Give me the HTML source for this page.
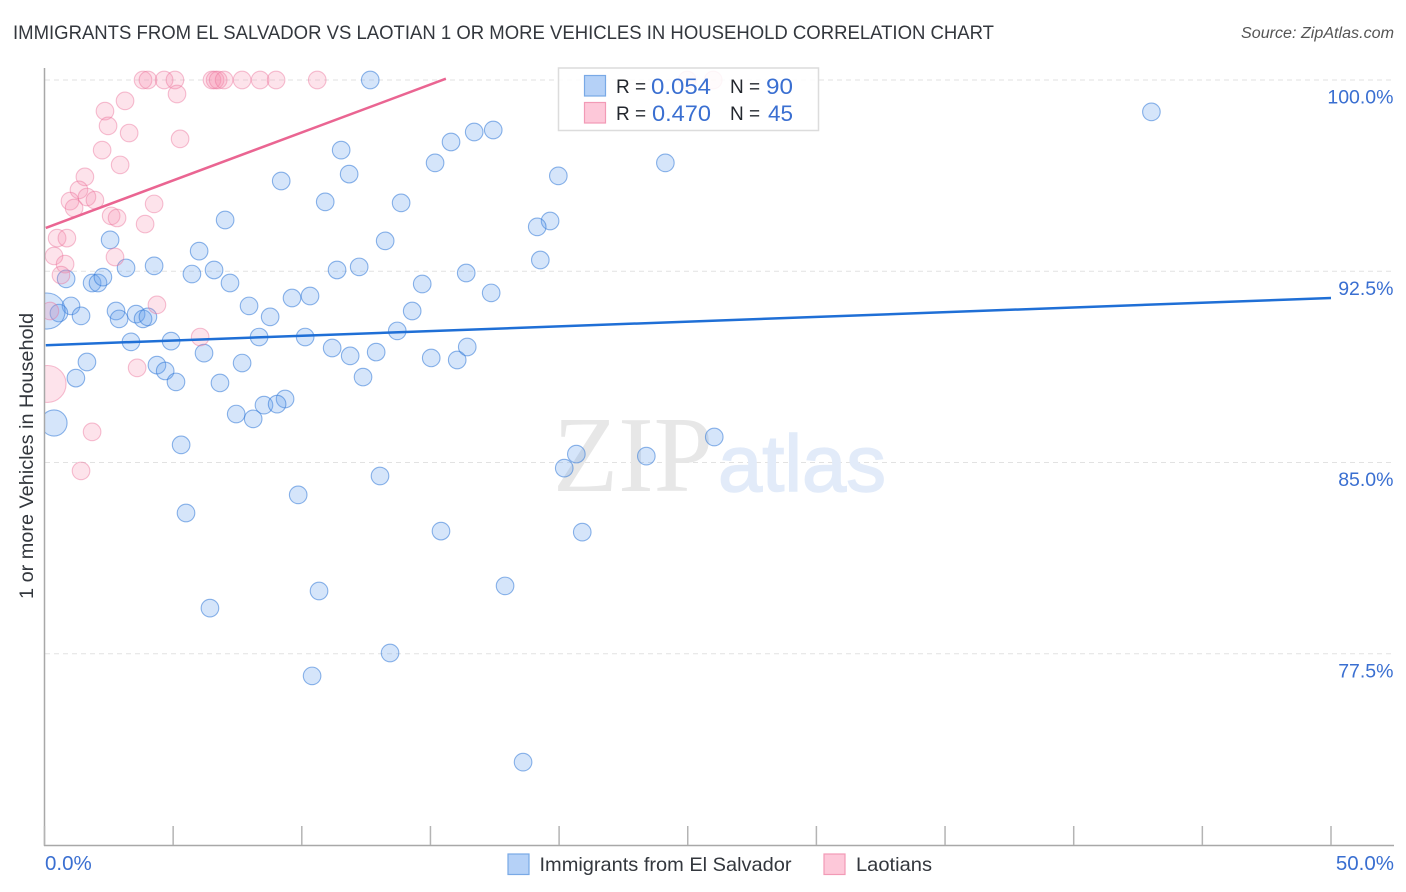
<!DOCTYPE html>
<html lang="en">
<head>
<meta charset="utf-8">
<title>Immigrants from El Salvador vs Laotian 1 or more Vehicles in Household Correlation Chart</title>
<style>
html,body{margin:0;padding:0;background:#fff;}
svg{display:block;font-family:"Liberation Sans",sans-serif;}
</style>
</head>
<body>
<svg id="chart" width="1406" height="892" viewBox="0 0 1406 892" xmlns="http://www.w3.org/2000/svg">
  <defs><clipPath id="plot-clip"><rect x="45" y="60" width="1349" height="785"/></clipPath></defs>
  <text x="13" y="39" font-size="19.5" fill="#33373d" textLength="981" lengthAdjust="spacingAndGlyphs">IMMIGRANTS FROM EL SALVADOR VS LAOTIAN 1 OR MORE VEHICLES IN HOUSEHOLD CORRELATION CHART</text>
  <text x="1394" y="38" font-size="15.5" font-style="italic" fill="#555" text-anchor="end" textLength="153" lengthAdjust="spacingAndGlyphs">Source: ZipAtlas.com</text>
  <text transform="translate(33,599) rotate(-90)" font-size="19" fill="#33373d" textLength="286" lengthAdjust="spacingAndGlyphs">1 or more Vehicles in Household</text>

  <g id="grid"></g>
  <g>
    <text x="553" y="491" font-family="'Liberation Serif',serif" font-size="108" fill="#e7e7e7" textLength="160" lengthAdjust="spacingAndGlyphs">ZIP</text>
    <text x="718" y="491" font-size="80" fill="#e2ebf9" stroke="#e2ebf9" stroke-width="1.5" textLength="168" lengthAdjust="spacingAndGlyphs">atlas</text>
  </g>
  <g id="points" clip-path="url(#plot-clip)"></g>
  <g id="trends"></g>
  <g id="axes"></g>
  <g id="tick-labels"></g>

  <g>
    <rect x="558.5" y="68" width="260" height="62.5" fill="#fff" fill-opacity="0.86" stroke="#dcdcdc" stroke-width="1.5"/>
    <rect x="584.5" y="75.5" width="21" height="20.5" fill="#b5d1f7" stroke="#79a9e6" stroke-width="1.2"/>
    <rect x="584.5" y="102.5" width="21" height="20.5" fill="#fdc8d9" stroke="#f29ab6" stroke-width="1.2"/>
    <g font-size="20">
      <text x="616" y="93" fill="#23272e" font-size="19">R =</text>
      <text x="651" y="94" fill="#3a6fd1" font-size="22" textLength="60" lengthAdjust="spacingAndGlyphs">0.054</text>
      <text x="730" y="93" fill="#23272e" font-size="19">N =</text>
      <text x="766" y="94" fill="#3a6fd1" font-size="22" textLength="27" lengthAdjust="spacingAndGlyphs">90</text>
      <text x="616" y="120" fill="#23272e" font-size="19">R =</text>
      <text x="652" y="121" fill="#3a6fd1" font-size="22" textLength="59" lengthAdjust="spacingAndGlyphs">0.470</text>
      <text x="730" y="120" fill="#23272e" font-size="19">N =</text>
      <text x="768" y="121" fill="#3a6fd1" font-size="22" textLength="25" lengthAdjust="spacingAndGlyphs">45</text>
    </g>
  </g>

  <g>
    <g>
      <rect x="508" y="854" width="21" height="20.5" fill="#b5d1f7" stroke="#79a9e6" stroke-width="1.2"/>
      <text x="539.5" y="871" font-size="19.5" fill="#33373d" textLength="252" lengthAdjust="spacingAndGlyphs">Immigrants from El Salvador</text>
    </g>
    <g>
      <rect x="824" y="854" width="21" height="20.5" fill="#fdc8d9" stroke="#f29ab6" stroke-width="1.2"/>
      <text x="856" y="871" font-size="19.5" fill="#33373d" textLength="76" lengthAdjust="spacingAndGlyphs">Laotians</text>
    </g>
  </g>
</svg>
<script>
const blueX = [12.66,43.02,17.44,16.70,15.80,11.53,15.18,24.13,11.84,19.97,9.20,10.91,13.86,7.02,19.65,19.15,13.24,2.55,6.01,19.27,3.17,4.26,6.59,11.37,12.23,5.73,16.39,0.84,1.85,2.08,2.27,7.21,14.68,17.36,9.62,10.32,7.95,14.29,1.03,0.56,0.10,1.42,2.78,2.90,3.56,3.83,4.02,8.77,13.71,8.34,10.13,3.36,4.92,11.18,12.89,11.88,15.03,16.04,16.43,6.20,1.65,4.37,4.69,7.68,1.22,5.11,6.82,12.38,9.35,8.53,9.04,7.45,8.11,0.37,5.31,26.03,23.39,20.67,20.20,13.04,9.86,5.50,15.41,20.90,17.90,10.67,6.43,13.43,10.40,18.60];
const blueY = [100,98.75,98.04,97.96,97.57,97.25,96.75,96.75,96.31,96.24,96.04,95.22,95.18,94.51,94.47,94.24,93.69,93.73,93.29,92.94,92.63,92.71,92.55,92.55,92.67,92.39,92.43,92.20,92.04,92.04,92.27,92.04,92.00,91.65,91.45,91.53,91.14,90.94,91.14,90.86,90.94,90.75,90.94,90.63,90.82,90.63,90.71,90.71,90.16,89.92,89.92,89.73,89.76,89.49,89.33,89.18,89.10,89.02,89.53,89.29,88.94,88.82,88.59,88.90,88.31,88.16,88.12,88.35,87.49,87.25,87.29,86.90,86.71,86.55,85.69,86.00,85.25,85.33,84.78,84.47,83.73,83.02,82.31,82.27,80.16,79.96,79.29,77.53,76.63,73.25];
const blueWeight = [1,1,1,1,1,1,1,1,1,1,1,1,1,1,1,1,1,1,1,1,1,1,1,1,1,1,1,1,1,1,1,1,1,1,1,1,1,1,1,1,4.2,1,1,1,1,1,1,1,1,1,1,1,1,1,1,1,1,1,1,1,1,1,1,1,1,1,1,1,1,1,1,1,1,2.2,1,1,1,1,1,1,1,1,1,1,1,1,1,1,1,1];
const pinkX = [3.83,4.02,4.65,5.07,6.51,6.63,6.75,6.98,7.68,8.38,9.00,10.60,24.98,25.99,2.35,3.13,2.47,3.29,5.15,5.27,2.24,2.94,1.57,1.34,0.99,1.15,1.65,1.96,2.59,2.82,4.26,3.91,0.49,0.87,0.37,2.74,0.80,0.64,4.37,0.21,6.05,3.60,0.12,1.85,1.42];
const pinkY = [100,100,100,100,100,100,100,100,100,100,100,100,100,100,98.78,99.18,98.20,97.92,99.45,97.69,97.25,96.67,96.20,95.69,95.25,94.98,95.41,95.29,94.67,94.59,95.14,94.35,93.80,93.80,93.10,93.06,92.78,92.35,91.18,90.94,89.92,88.71,88.08,86.20,84.67];
const pinkWeight = [1,1,1,1,1,1,1,1,1,1,1,1,1,1,1,1,1,1,1,1,1,1,1,1,1,1,1,1,1,1,1,1,1,1,1,1,1,1,1,1,1,1,4.4,1,1];
const blueTrendX = [0.05, 50];
const blueTrendY = [89.6, 91.45];
const pinkTrendX = [0.05, 15.6];
const pinkTrendY = [94.2, 100.05];
const gridValues = [100, 92.5, 85, 77.5];
const gridLabels = ["100.0%", "92.5%", "85.0%", "77.5%"];
const xTickValues = [0, 5, 10, 15, 20, 25, 30, 35, 40, 45, 50];
const xEndValues = [0, 50];
const xEndLabels = ["0.0%", "50.0%"];

const NS = "http://www.w3.org/2000/svg";
function xScale(v) { return 44.5 + v * 25.73; }
function yScale(v) { return 80 + (100 - v) * 25.5; }
function rScale(w) { return 8.8 * Math.sqrt(w); }
function make(tag, parent, attrs) {
  const el = document.createElementNS(NS, tag);
  for (const k in attrs) el.setAttribute(k, attrs[k]);
  parent.appendChild(el);
  return el;
}

const gridG = document.getElementById("grid");
const labelsG = document.getElementById("tick-labels");
gridValues.forEach(function (v, i) {
  const line = make("line", gridG, { x1: 45, x2: 1394, y1: yScale(v), y2: yScale(v), stroke: "#e2e2e2", "stroke-width": 1, "stroke-dasharray": "5 4" });
  
  
  const t = make("text", labelsG, { x: 1393.5, y: yScale(v) + 23.5, "text-anchor": "end", "font-size": 19.5, fill: "#3a6fd1" });
  t.textContent = gridLabels[i];
  
  
});

const axesG = document.getElementById("axes");
const yAxis = make("line", axesG, { x1: 44.5, x2: 44.5, y1: 68, y2: 846, stroke: "#a8a8a8", "stroke-width": 1.5 });


const xAxis = make("line", axesG, { x1: 44, x2: 1394, y1: 845.5, y2: 845.5, stroke: "#a8a8a8", "stroke-width": 1.5 });


xTickValues.forEach(function (v) {
  const tick = make("line", axesG, { x1: xScale(v), x2: xScale(v), y1: 826, y2: 845, stroke: "#b4b4b4", "stroke-width": 1.5 });
  
  
});
xEndValues.forEach(function (v, i) {
  const anchor = i === 0 ? "start" : "end";
  const px = i === 0 ? xScale(v) + 0.5 : 1394;
  const t = make("text", labelsG, { x: px, y: 870, "text-anchor": anchor, "font-size": 20.5, fill: "#3a6fd1" });
  t.textContent = xEndLabels[i];
  
  
});

const pointsG = document.getElementById("points");
blueX.forEach(function (v, i) {
  const c = make("circle", pointsG, { cx: xScale(v), cy: yScale(blueY[i]), r: rScale(blueWeight[i]), fill: "rgba(100,160,235,0.27)", stroke: "rgba(50,120,215,0.55)", "stroke-width": 1.1 });
  
  
});
pinkX.forEach(function (v, i) {
  const c = make("circle", pointsG, { cx: xScale(v), cy: yScale(pinkY[i]), r: rScale(pinkWeight[i]), fill: "rgba(245,140,172,0.24)", stroke: "rgba(235,115,155,0.45)", "stroke-width": 1.1 });
  
  
});

const trendsG = document.getElementById("trends");
const blueLine = make("line", trendsG, { x1: xScale(blueTrendX[0]), y1: yScale(blueTrendY[0]), x2: xScale(blueTrendX[1]), y2: yScale(blueTrendY[1]), stroke: "#1f6fd6", "stroke-width": 2.5 });


const pinkLine = make("line", trendsG, { x1: xScale(pinkTrendX[0]), y1: yScale(pinkTrendY[0]), x2: xScale(pinkTrendX[1]), y2: yScale(pinkTrendY[1]), stroke: "#ea6592", "stroke-width": 2.5 });


</script>
</body>
</html>
